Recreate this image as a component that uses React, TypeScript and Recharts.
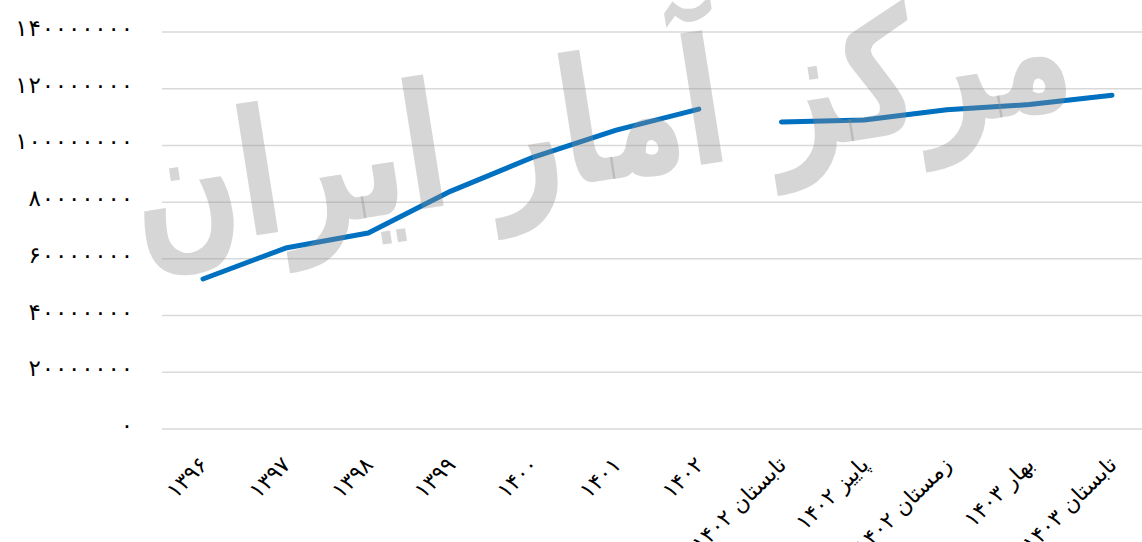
import React from 'react';
import { LineChart, Line, XAxis, YAxis, CartesianGrid } from 'recharts';

const categories: string[] = [
  '۱۳۹۶', '۱۳۹۷', '۱۳۹۸', '۱۳۹۹', '۱۴۰۰', '۱۴۰۱', '۱۴۰۲',
  'تابستان ۱۴۰۲', 'پاییز ۱۴۰۲', 'زمستان ۱۴۰۲', 'بهار ۱۴۰۳', 'تابستان ۱۴۰۳',
];
const annualValues: (number | null)[] = [
  52900000, 63800000, 69100000, 83900000, 95900000, 105400000, 112800000,
  null, null, null, null, null,
];
const quarterlyValues: (number | null)[] = [
  null, null, null, null, null, null, null,
  108300000, 109000000, 112600000, 114400000, 117700000,
];
const yTicks: number[] = [0, 20000000, 40000000, 60000000, 80000000, 100000000, 120000000, 140000000];
const watermarkText = 'مرکز آمار ایران';

const data = categories.map((c, i) => ({ name: c, annual: annualValues[i], quarterly: quarterlyValues[i] }));

const FA = '۰۱۲۳۴۵۶۷۸۹';
const toFa = (v: number | string) => String(v).replace(/\d/g, (d) => FA[Number(d)]);

const FONT = '"DejaVu Sans", sans-serif';

const XTick = (props: any) => {
  const { x, y, payload } = props;
  const ax = x - 1;
  return (
    <text
      x={ax}
      y={y}
      textAnchor="end"
      transform={`rotate(-45, ${ax}, ${y})`}
      fontFamily={FONT}
      fontSize={22}
      fill="#000"
      dy={10}
    >
      {payload.value}
    </text>
  );
};

const YTick = (props: any) => {
  const { x, y, payload } = props;
  const s = toFa(payload.value);
  const len = s.length > 1 ? s.length * 13.3 - 2 : undefined;
  return (
    <text
      x={x}
      y={y}
      textAnchor="end"
      dominantBaseline="central"
      fontFamily={FONT}
      fontSize={23}
      fill="#000"
      dy={-4}
      textLength={len}
      lengthAdjust="spacing"
    >
      {s}
    </text>
  );
};

export default function App() {
  return (
    <div style={{ position: 'fixed', left: 0, top: 0, width: 1142, height: 542, overflow: 'hidden', background: '#fff' }}>
      <LineChart
        width={1160}
        height={542}
        data={data}
        margin={{ top: 32, right: 7, bottom: 0, left: 0 }}
      >
        <CartesianGrid horizontal vertical={false} stroke="#d9d9d9" strokeWidth={1.5} />
        <XAxis
          dataKey="name"
          axisLine={false}
          tickLine={false}
          height={113}
          interval={0}
          padding={{ left: 41, right: 41 }}
          tick={<XTick />}
          tickSize={0}
          tickMargin={30}
        />
        <YAxis
          domain={[0, 140000000]}
          ticks={yTicks}
          axisLine={false}
          tickLine={false}
          tickSize={0}
          tickMargin={29}
          width={162}
          tick={<YTick />}
        />
        <Line
          dataKey="annual"
          stroke="#0070C0"
          strokeWidth={5}
          strokeLinecap="round"
          strokeLinejoin="round"
          dot={false}
          activeDot={false}
          connectNulls={false}
          isAnimationActive={false}
        />
        <Line
          dataKey="quarterly"
          stroke="#0070C0"
          strokeWidth={5}
          strokeLinecap="round"
          strokeLinejoin="round"
          dot={false}
          activeDot={false}
          connectNulls={false}
          isAnimationActive={false}
        />
      </LineChart>
      <div
        style={{
          position: 'absolute',
          left: 120,
          top: 20,
          width: 960,
          textAlign: 'center',
          direction: 'rtl',
          fontFamily: FONT,
          fontWeight: 'bold',
          fontSize: 125,
          lineHeight: '200px',
          color: 'rgba(140,140,140,0.36)',
          transform: 'rotate(-9deg) scaleY(1.4)',
          pointerEvents: 'none',
          whiteSpace: 'nowrap',
        }}
      >
        {watermarkText}
      </div>
    </div>
  );
}
